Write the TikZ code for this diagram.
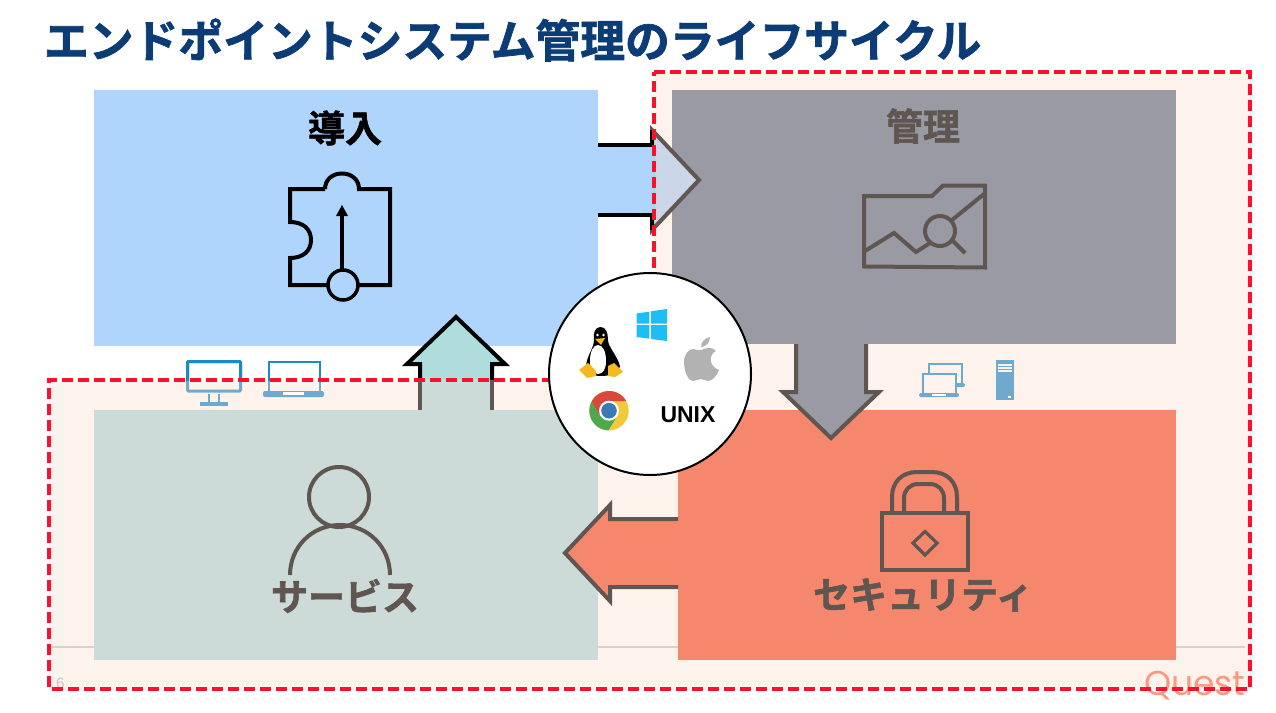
\documentclass[tikz,border=0pt]{standalone}
\usepackage{fontspec}
\setmainfont{Liberation Sans}
\newfontfamily\jpfont{Noto Sans CJK JP}[BoldFont={Noto Sans CJK JP Bold},BoldFeatures={FakeBold=1.6}]
\newfontfamily\logofont{Poppins}
\definecolor{pagepink}{HTML}{FEF2ED}
\definecolor{dashred}{HTML}{FF0F2B}
\definecolor{navytitle}{HTML}{0B3C75}
\definecolor{deployblue}{HTML}{B0D5FC}
\definecolor{managegray}{HTML}{9A9AA4}
\definecolor{securesalmon}{HTML}{F5886C}
\definecolor{servicegreen}{HTML}{CCDBD8}
\definecolor{edgebrown}{HTML}{5F5551}
\definecolor{iconblue}{HTML}{6FA9CD}
\definecolor{iconbright}{HTML}{1C8AC6}
\definecolor{headblue}{HTML}{CBD7E9}
\definecolor{headteal}{HTML}{AEDDDB}
\definecolor{winblue}{HTML}{1DBEF6}
\definecolor{chromered}{HTML}{D9483B}
\definecolor{chromegreen}{HTML}{4EA94B}
\definecolor{chromeyellow}{HTML}{F2C93A}
\definecolor{chromeblue}{HTML}{3B79B4}
\definecolor{tuxyellow}{HTML}{F5B81F}
\definecolor{logoorange}{HTML}{F99A80}
\usetikzlibrary{positioning}

\newcommand{\desktopicons}[1]{
  \draw[#1,line width=3,rounded corners=1] (187.5,361.5) rectangle (240.5,391);
  \draw[#1,line width=2] (209,394) -- (209,402) (219,394) -- (219,402);
  \fill[#1] (200,402) rectangle (228,406);
  \draw[#1,line width=2] (268.5,361.5) rectangle (320,392);
  \fill[#1,rounded corners=2] (263,391) rectangle (324,397);
  \fill[white] (283,392) rectangle (304,395);
}

\begin{document}
\begin{tikzpicture}[
    x=1pt,y=-1pt,
    every node/.style={inner sep=0pt,outer sep=0pt},
    phasebox/.style={anchor=north west,minimum width=#1},
    phaselabel/.style={font=\jpfont\bfseries\fontsize{37}{37}\selectfont,text=edgebrown},
    blockedge/.style={line width=4,draw=edgebrown,miter limit=20},
    blackedge/.style={line width=4,draw=black,miter limit=20},
    iconline/.style={line width=4,draw=edgebrown},
    deviceline/.style={line width=2,draw=iconblue}
  ]
  \useasboundingbox[fill=white] (0,0) rectangle (1276,712);

  % pink area behind management, security and service
  \fill[pagepink] (654,72) -- (1250,72) -- (1250,690) -- (49,690) -- (49,380) -- (654,380) -- cycle;
  \draw[draw=black!10!pagepink!90!gray,line width=1.5] (49,647) -- (1245,647);

  \node[anchor=west] (title) at (44,40) {\jpfont\bfseries\fontsize{44.8}{44.8}\selectfont\textcolor{navytitle}{エンドポイントシステム管理のライフサイクル}};
  \node[anchor=west,text=black!22,font=\fontsize{15}{15}\selectfont] (pagenum) at (56,683) {6};
  \node[anchor=base west,text=logoorange,font=\logofont\fontsize{34.5}{34.5}\selectfont] (logo) at (1144,695) {Quest};

  % the four phases
  \node[phasebox=504pt,minimum height=256pt,fill=deployblue] (deploy) at (94,90) {};
  \node[phasebox=504pt,minimum height=254pt,fill=managegray] (manage) at (672,90) {};
  \node[phasebox=498pt,minimum height=250pt,fill=securesalmon] (secure) at (678,410) {};
  \node[phasebox=504pt,minimum height=250pt,fill=servicegreen] (service) at (94,410) {};

  \node[phaselabel,text=black] (deploytext) at (345,128) {導入};
  \node[phaselabel] (managetext) at (923,126) {管理};
  \node[phaselabel] (securetext) at (923,595) {セキュリティ};

  % block arrows
  \fill[deployblue] (596,145) rectangle (654,215);
  \draw[blockedge,fill=headblue] (652,130) -- (699,180) -- (652,230) -- cycle;
  \fill[deployblue] (650,147) rectangle (654,213);
  \draw[blackedge] (598,145) -- (652,145) -- (652,130);
  \draw[blackedge] (598,215) -- (652,215) -- (652,230);

  \draw[blockedge,fill=managegray] (796,344) -- (796,392) -- (783,392) -- (831,438) -- (879,392) -- (866,392) -- (866,344);

  \draw[blockedge,fill=securesalmon] (678,519) -- (610,519) -- (610,505) -- (565,553) -- (610,601) -- (610,587) -- (678,587);

  \fill[servicegreen] (420,380) rectangle (492,410);
  \draw[blackedge,fill=headteal] (420,380) -- (420,364) -- (407,364) -- (456,317) -- (505,364) -- (492,364) -- (492,380);
  \draw[blockedge] (420,380) -- (420,410) (492,380) -- (492,410);

  \node[phaselabel] (servicetext) at (345,596) {サービス};

  % puzzle piece icon
  \draw[line width=4,line join=miter] (325,189) -- (290,189) -- (290,222) .. controls (303,222) and (311,229) .. (311,240) .. controls (311,251) and (303,258) .. (290,258) -- (290,285) -- (328,285);
  \draw[line width=4] (358,285) -- (390,285) -- (390,189) -- (359,189) .. controls (359,180) and (352,173.5) .. (342,173.5) .. controls (332,173.5) and (325,180) .. (325,189);
  \draw[line width=3.5] (343,285) circle (15);
  \draw[line width=3.5] (342,270) -- (342,212);
  \fill (342,205) -- (348,216) -- (336,216) -- cycle;

  % folder with chart icon
  \draw[iconline,line join=miter] (864,196) -- (932,196) -- (943,185.5) -- (985,185.5) -- (985,267.5) -- (864,266.5) -- cycle;
  \draw[iconline] (865,251) -- (894,233) -- (916,252) -- (930,243);
  \draw[iconline] (940,231) circle (15);
  \draw[iconline] (952,220) -- (984,194) (952,240) -- (965,253);

  % padlock icon
  \draw[iconline] (882,512.5) rectangle (968,570);
  \draw[iconline] (892,512) -- (892,497) .. controls (892,482) and (902,472) .. (917,472) -- (932,472) .. controls (947,472) and (957,482) .. (957,497) -- (957,512);
  \draw[iconline] (904,512) -- (904,498) .. controls (904,490) and (910,484) .. (918,484) -- (930,484) .. controls (938,484) and (944,490) .. (944,498) -- (944,512);
  \draw[line width=3.2,draw=edgebrown] (925,531.5) -- (937,543) -- (925,555) -- (913,543) -- cycle;

  % person icon
  \draw[iconline] (339,497) circle (30);
  \draw[iconline] (290,575) .. controls (290,547) and (312,525) .. (340,525) .. controls (368,525) and (390,547) .. (390,575);

  % devices
  \desktopicons{iconblue}
  \begin{scope}
    \clip (180,350) rectangle (330,380);
    \desktopicons{iconbright}
  \end{scope}
  \draw[deviceline] (929,364) rectangle (962,384);
  \fill[iconblue,rounded corners=2] (925,383) rectangle (965,387);
  \fill[white] (938,384) rectangle (952,385.5);
  \draw[deviceline,fill=pagepink] (923,374) rectangle (956,394);
  \fill[iconblue,rounded corners=2] (919,393) rectangle (959,397);
  \fill[white] (932,394) rectangle (946,395.5);
  \fill[iconblue] (996,360) rectangle (1014,400);
  \foreach \y in {365,368,371} {
    \fill[pagepink] (998,\y-0.7) rectangle (1012,\y+0.7);
  }
  \fill[white] (1008,396) rectangle (1011,398);

  % red dashed outline
  \draw[dashred,line width=4,dash pattern=on 11pt off 5pt] (654,72) -- (1250,72) -- (1250,689) -- (49,689) -- (49,380) -- (654,380) -- cycle;

  % platforms in the middle
  \node[circle,draw=black,line width=2,fill=white,minimum size=202pt] (platforms) at (650,374) {};
  \node[font=\bfseries\fontsize{23}{23}\selectfont] (unix) at (688,415) {UNIX};

  % windows
  \fill[winblue] (636.7,313.5) -- (649.3,311.7) -- (649.3,323.5) -- (636.7,323.5) -- cycle;
  \fill[winblue] (651,311.3) -- (667,309) -- (667,323.5) -- (651,323.5) -- cycle;
  \fill[winblue] (636.7,325) -- (649.3,325) -- (649.3,338.7) -- (636.7,337) -- cycle;
  \fill[winblue] (651,325) -- (667,325) -- (667,341) -- (651,339) -- cycle;

  % apple
  \fill[black!30] (701,350) .. controls (706,348) and (711,346) .. (716,351) .. controls (709,354) and (708,366) .. (719,370) .. controls (717,376) and (712,381) .. (708,381) .. controls (705,381) and (704,379) .. (701,379) .. controls (698,379) and (696,381) .. (693,381) .. controls (688,381) and (684,371) .. (684,362) .. controls (684,354) and (689,349) .. (693,349) .. controls (696,349) and (698,351) .. (701,350) -- cycle;
  \fill[black!30] (701,347) .. controls (701,342) and (705,338) .. (710,337) .. controls (710,342) and (706,347) .. (701,347) -- cycle;

  % chrome
  \begin{scope}
    \clip (609,410.7) circle (19.7);
    \fill[chromeyellow] (585,385) rectangle (635,435);
    \fill[chromered] (600,416) -- (590,399) -- (585,385) -- (640,385) -- (640,401) -- (609,401) -- cycle;
    \fill[chromegreen] (600,416) -- (590,399) -- (580,399) -- (580,445) -- (604,445) -- (608,431) -- (616,418) -- cycle;
  \end{scope}
  \fill[white] (609,410.7) circle (10);
  \fill[chromeblue] (609,410.7) circle (7.8);

  % penguin
  \fill[black] (600.5,327) .. controls (606,327) and (608,333) .. (608,340) .. controls (608,347) and (617,355) .. (620,366) .. controls (620,372) and (612,376) .. (601,376) .. controls (592,376) and (585,372) .. (586,366) .. controls (587,355) and (594,348) .. (594,340) .. controls (593,333) and (595,327) .. (600.5,327) -- cycle;
  \fill[white] (598,345) .. controls (603,345) and (606,352) .. (606,361) .. controls (606,369) and (603,374) .. (598,374) .. controls (593,374) and (590,369) .. (590,361) .. controls (590,352) and (593,345) .. (598,345) -- cycle;
  \fill[tuxyellow] (595,339) -- (605,338) -- (601,345) -- cycle;
  \fill[white] (597.5,335) circle (1.4) (603.5,335) circle (1.4);
  \fill[tuxyellow] (579,370) -- (588,363) -- (596,371) -- (596,376) -- (587,378) -- cycle;
  \fill[tuxyellow] (608,366) -- (614,363) -- (623,372) -- (615,377) -- (608,376) -- cycle;
\end{tikzpicture}
\end{document}
